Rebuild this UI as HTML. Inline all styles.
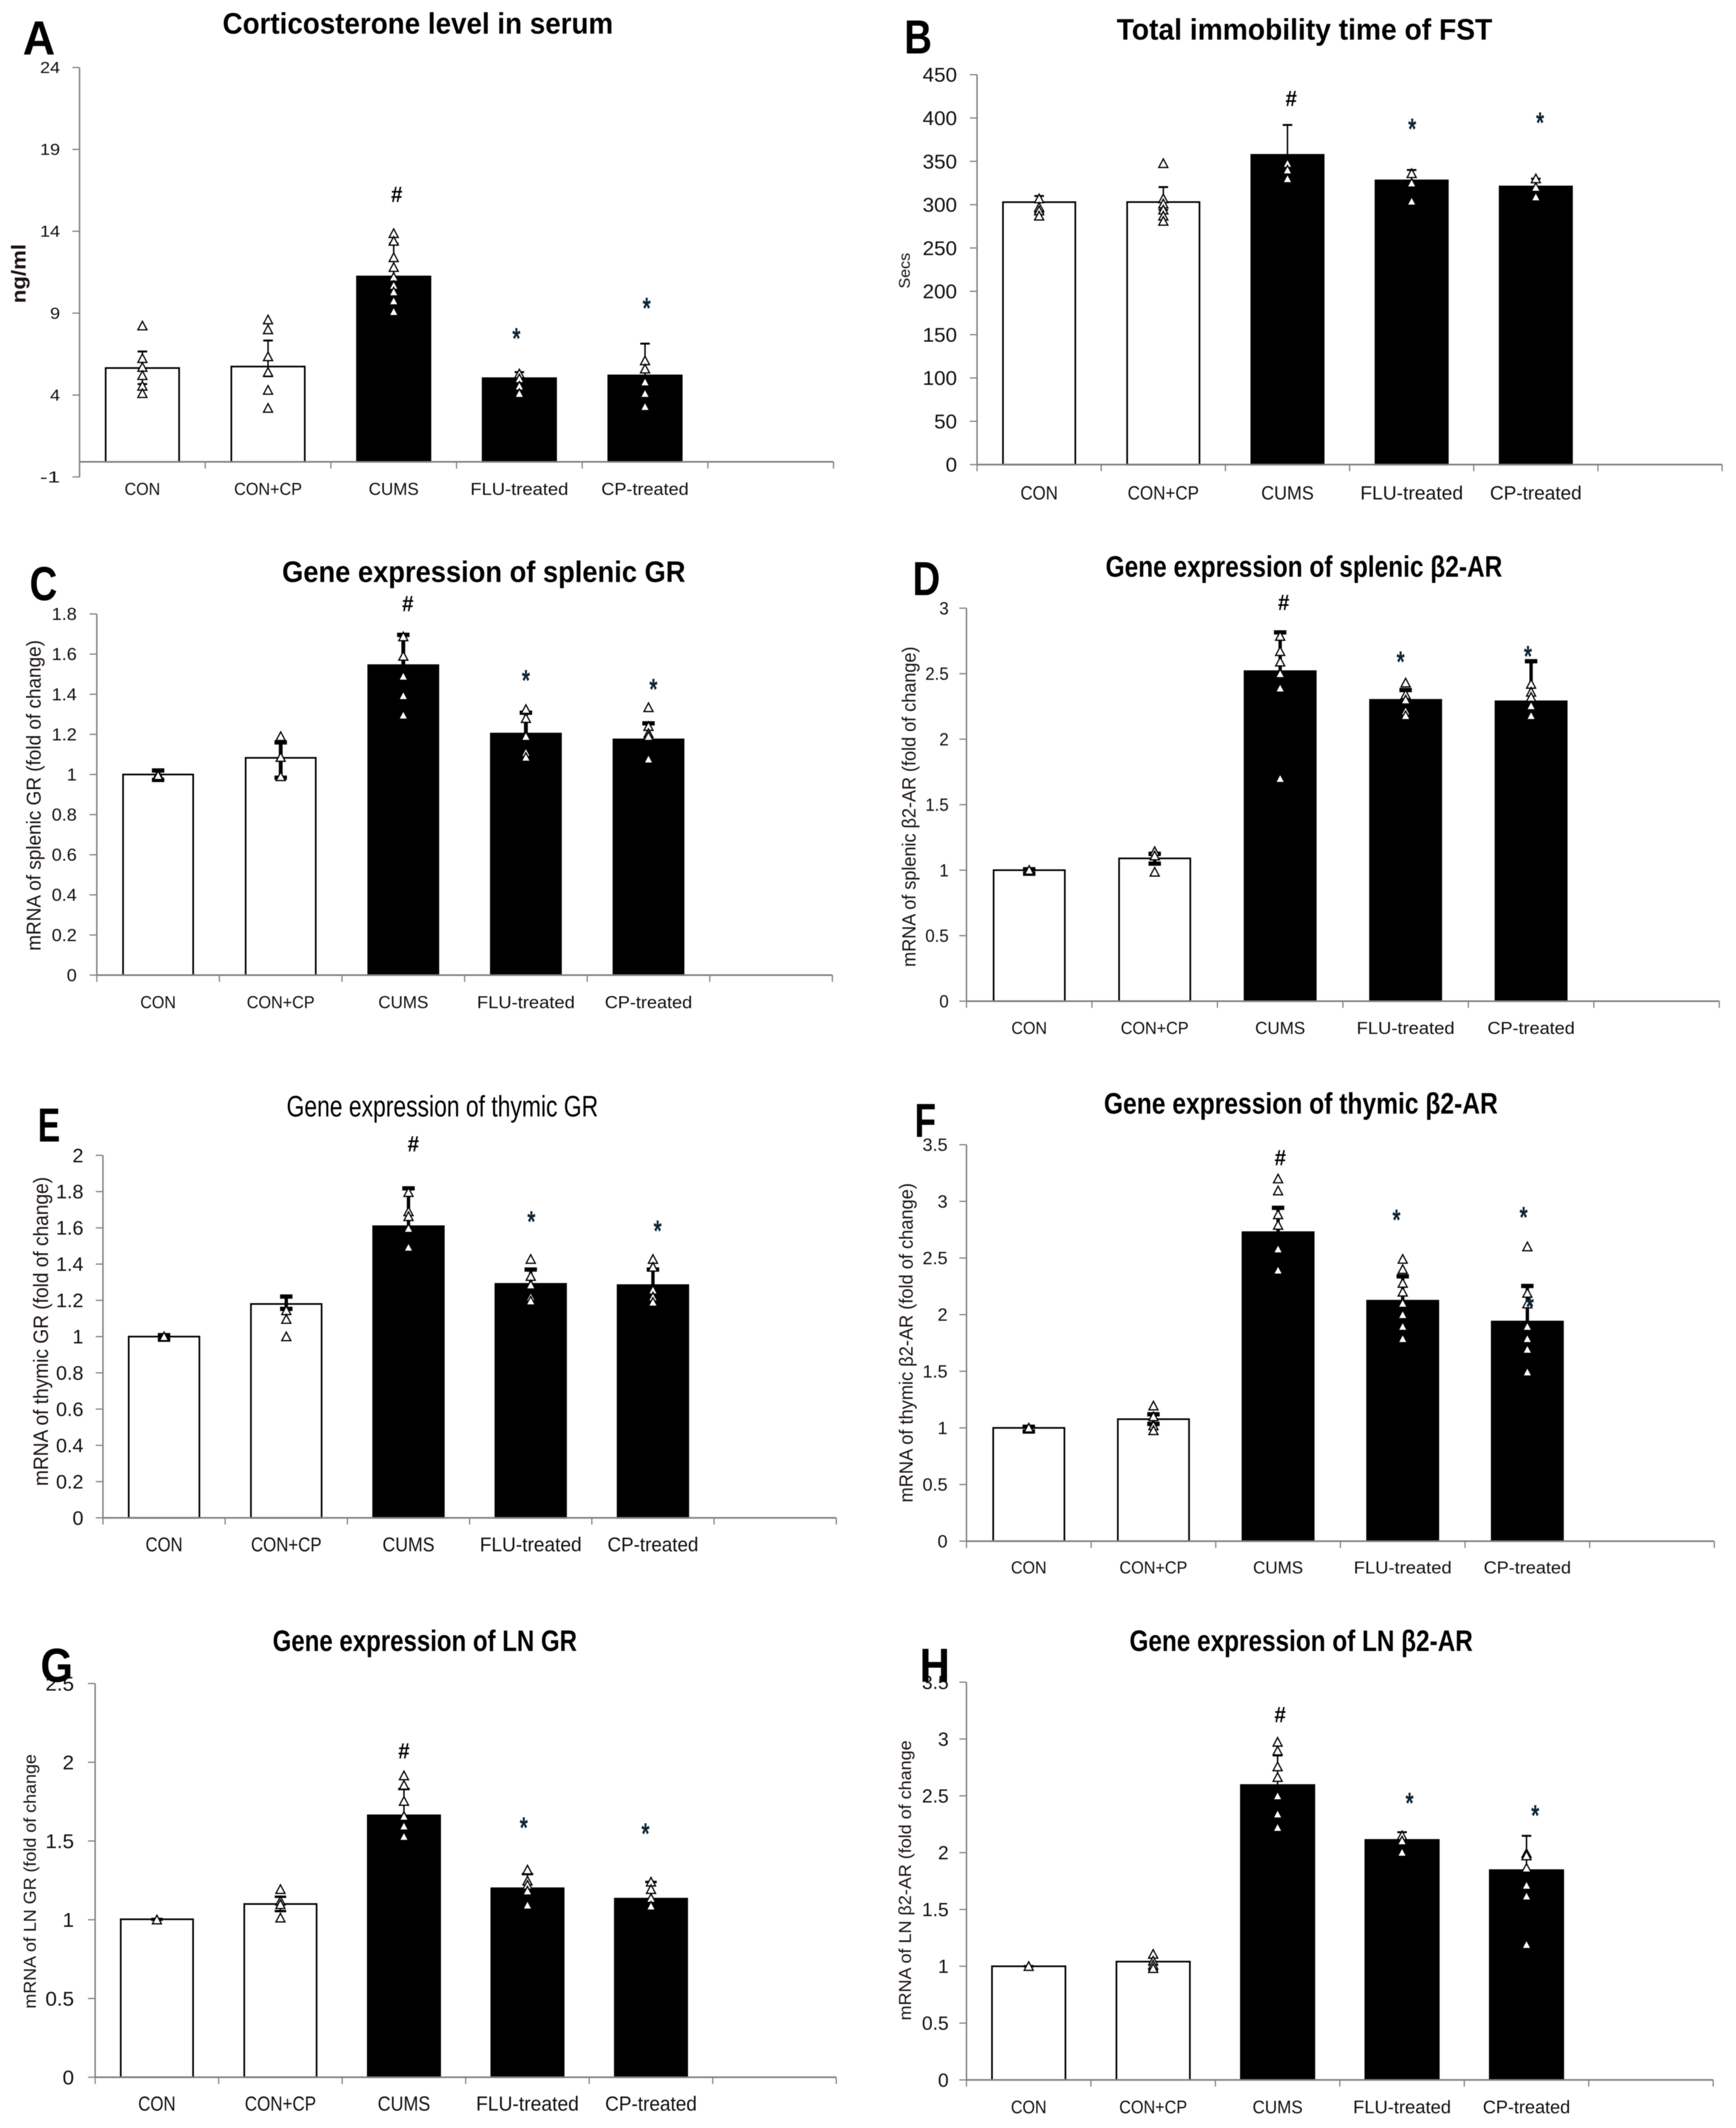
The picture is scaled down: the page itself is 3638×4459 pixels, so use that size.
<!DOCTYPE html>
<html lang="en">
<head>
<meta charset="utf-8">
<title>Eight bar chart panels: corticosterone, immobility and gene expression</title>
<style>
html,body{margin:0;padding:0;background:#fff;width:3638px;height:4459px;overflow:hidden}
svg{display:block;filter:blur(0.9px)}
text{font-family:"Liberation Sans","DejaVu Sans",sans-serif}
</style>
</head>
<body>
<svg id="figure" xmlns="http://www.w3.org/2000/svg" width="3638" height="4459" viewBox="0 0 3638 4459"></svg>
<script>
const categories = ['CON','CON+CP','CUMS','FLU-treated','CP-treated'];

const ticksA = [-1,4,9,14,19,24];
const barsA = [5.65,5.74,11.24,5.03,5.2];
const errHiA = [6.66,7.33,13.25,5.4,7.14];
const errLoA = [4.67,5.15,9.2,4.66,3.3];
const pointsA = [[8.23,6.24,5.7,5.2,4.55,4.1],[8.6,8.0,6.35,5.4,4.3,3.2],[13.87,13.4,12.4,11.8,11.2,10.7,10.3,9.75,9.1],[5.3,5.0,4.55,4.1],[6.1,5.6,4.8,4.1,3.3]];
const marksA = [[2.024,'#',16.26],[2.976,'*',7.74],[4.013,'*',9.59]];

const ticksB = [0,50,100,150,200,250,300,350,400,450];
const barsB = [302.9,303,357.5,328,321];
const errHiB = [310,320.3,392,340,330];
const errLoB = [291,294,323,316,312];
const pointsB = [[307,297,293,287],[347.6,307,301,294,287,281],[347.6,340,330],[336,325,304],[330,320,309]];
const marksB = [[2.03,'#',422.7],[3.004,'*',392.6],[4.034,'*',399.8]];

const ticksC = [0,0.2,0.4,0.6,0.8,1,1.2,1.4,1.6,1.8];
const barsC = [1.0,1.083,1.545,1.204,1.175];
const errHiC = [1.02,1.16,1.696,1.308,1.255];
const errLoC = [0.973,0.984,1.39,1.1,1.09];
const pointsC = [[1.0,0.995],[1.19,1.086,0.99],[1.687,1.59,1.49,1.393,1.296],[1.325,1.28,1.19,1.11,1.086],[1.334,1.24,1.205,1.19,1.077]];
const marksC = [[2.037,'#',1.853],[3.0,'*',1.492],[4.04,'*',1.448]];

const ticksD = [0,0.5,1,1.5,2,2.5,3];
const barsD = [1.0,1.09,2.519,2.3,2.289];
const errHiD = [1.007,1.125,2.815,2.375,2.595];
const errLoD = [0.973,1.05,2.22,2.22,1.98];
const pointsD = [[1.0],[1.143,1.11,0.986],[2.786,2.67,2.59,2.5,2.39,1.7],[2.43,2.34,2.3,2.215,2.18],[2.42,2.36,2.32,2.255,2.18]];
const marksD = [[2.028,'#',3.045],[2.96,'*',2.626],[3.975,'*',2.668]];

const ticksE = [0,0.2,0.4,0.6,0.8,1,1.2,1.4,1.6,1.8,2];
const barsE = [1.0,1.18,1.609,1.291,1.284];
const errHiE = [1.008,1.221,1.818,1.37,1.37];
const errLoE = [0.983,1.153,1.4,1.21,1.2];
const pointsE = [[1.0],[1.144,1.096,1.0],[1.796,1.69,1.663,1.597,1.493],[1.427,1.333,1.285,1.219,1.197],[1.427,1.384,1.257,1.219,1.19]];
const marksE = [[2.04,'#',2.064],[3.005,'*',1.66],[4.038,'*',1.609]];

const ticksF = [0,0.5,1,1.5,2,2.5,3,3.5];
const barsF = [1.0,1.077,2.728,2.123,1.939];
const errHiF = [1.01,1.12,2.943,2.338,2.253];
const errLoF = [0.968,1.035,2.51,1.91,1.62];
const pointsF = [[1.0],[1.195,1.1,1.02,0.977],[3.2,3.094,2.883,2.79,2.58,2.393],[2.49,2.4,2.278,2.2,2.1,2.0,1.896,1.788],[2.6,2.19,2.096,1.896,1.788,1.694,1.494]];
const marksF = [[2.018,'#',3.388],[2.95,'*',2.877],[3.97,'*',2.9],[4.02,'*',2.11]];

const ticksG = [0,0.5,1,1.5,2,2.5];
const barsG = [1.003,1.1,1.663,1.2,1.134];
const errHiG = [1.005,1.146,1.83,1.29,1.24];
const errLoG = [1.0,1.055,1.5,1.11,1.03];
const pointsG = [[1.0],[1.193,1.119,1.097,1.012],[1.915,1.855,1.753,1.657,1.595,1.529],[1.317,1.247,1.22,1.183,1.093],[1.24,1.193,1.136,1.087]];
const marksG = [[2.0,'#',2.073],[2.97,'*',1.614],[3.955,'*',1.576]];

const ticksH = [0,0.5,1,1.5,2,2.5,3,3.5];
const barsH = [1.0,1.041,2.595,2.112,1.846];
const errHiH = [1.003,1.077,2.855,2.18,2.148];
const errLoH = [0.997,0.967,2.33,2.04,1.54];
const pointsH = [[1.0],[1.107,1.047,1.012,0.982],[2.973,2.896,2.757,2.663,2.5,2.34,2.222],[2.15,2.104,2.003],[1.994,1.973,1.864,1.713,1.618,1.192]];
const marksH = [[2.02,'#',3.216],[3.06,'*',2.476],[4.07,'*',2.367]];

const SX = 1819/1560;
const SY_TOP = 1120/1560;
const SY_LOW = 1099/1560;
const NS = 'http://www.w3.org/2000/svg';
const svg = document.getElementById('figure');

const panels = [
 {id:'a',letter:'A',ticks:ticksA,bars:barsA,hi:errHiA,lo:errLoA,pts:pointsA,marks:marksA,ox:0,oy:0,sy:SY_TOP,axL:143,axR:1498,axY:1348,zTop:197,zBot:1392,barW:132,
  title:'Corticosterone level in serum',tx:[400,1102,70],titleBold:true,ltr:[70,110,68],ytitle:'ng/ml',yt:[35,712,885,42],ytBold:true,tickR:108,tickF:33,tickW:21,xlY:1427,xlF:36,xlS:1,errW:3,capW:20,capH:4},
 {id:'b',letter:'B',ticks:ticksB,bars:barsB,hi:errHiB,lo:errLoB,pts:pointsB,marks:marksB,ox:1819,oy:0,sy:SY_TOP,axL:196,axR:1535,axY:1356,zTop:218,zBot:1356,barW:130,
  title:'Total immobility time of FST',tx:[447,1122,87],titleBold:true,ltr:[90,107,58],ytitle:'Secs',yt:[67,738,842,32],tickR:160,tickF:42,tickW:24,xlY:1438,xlF:40,xlS:1.05,errW:3,capW:20,capH:4},
 {id:'c',letter:'C',ticks:ticksC,bars:barsC,hi:errHiC,lo:errLoC,pts:pointsC,marks:marksC,ox:0,oy:1120,sy:SY_TOP,axL:174,axR:1496,axY:1286,zTop:232,zBot:1286,barW:126,
  title:'Gene expression of splenic GR',tx:[507,1232,110],titleBold:true,ltr:[78,143,58],ytitle:'mRNA of splenic GR (fold of change)',yt:[62,308,1215,42],tickR:138,tickF:36,tickW:21,xlY:1365,xlF:36,xlS:1,errW:8,capW:26,capH:9},
 {id:'d',letter:'D',ticks:ticksD,bars:barsD,hi:errHiD,lo:errLoD,pts:pointsD,marks:marksD,ox:1819,oy:1120,sy:SY_TOP,axL:177,axR:1530,axY:1362,zTop:215,zBot:1362,barW:128,
  title:'Gene expression of splenic β2-AR',tx:[427,1140,95],titleBold:true,ltr:[105,128,58],ytitle:'mRNA of splenic β2-AR (fold of change)',yt:[75,327,1262,40],tickR:145,tickF:37,tickW:19.6,xlY:1440,xlF:36,xlS:1,errW:7,capW:26,capH:9},
 {id:'e',letter:'E',ticks:ticksE,bars:barsE,hi:errHiE,lo:errLoE,pts:pointsE,marks:marksE,ox:0,oy:2240,sy:SY_TOP,axL:185,axR:1503,axY:1310,zTop:252,zBot:1310,barW:127,
  title:'Gene expression of thymic GR',tx:[515,1075,110],titleBold:false,ltr:[88,163,47],ytitle:'mRNA of thymic GR (fold of change)',yt:[75,315,1217,44],tickR:150,tickF:41,tickW:23,xlY:1387,xlF:42,xlS:1.04,errW:7,capW:26,capH:9},
 {id:'f',letter:'F',ticks:ticksF,bars:barsF,hi:errHiF,lo:errLoF,pts:pointsF,marks:marksF,ox:1819,oy:2240,sy:SY_TOP,axL:177,axR:1521,axY:1378,zTop:221,zBot:1378,barW:128,
  title:'Gene expression of thymic β2-AR',tx:[424,1132,102],titleBold:true,ltr:[103,150,45],ytitle:'mRNA of thymic β2-AR (fold of change)',yt:[70,333,1265,40],tickR:143,tickF:37,tickW:21,xlY:1455,xlF:36,xlS:1,errW:7,capW:26,capH:9},
 {id:'g',letter:'G',ticks:ticksG,bars:barsG,hi:errHiG,lo:errLoG,pts:pointsG,marks:marksG,ox:0,oy:3360,sy:SY_LOW,axL:171,axR:1503,axY:1409,zTop:238,zBot:1409,barW:130,
  title:'Gene expression of LN GR',tx:[490,1037,112],titleBold:true,ltr:[102,183,68],ytitle:'mRNA of LN GR (fold of change',yt:[55,448,1205,36],tickR:133,tickF:42,tickW:24,xlY:1487,xlF:43,xlS:1.05,errW:3,capW:24,capH:5},
 {id:'h',letter:'H',ticks:ticksH,bars:barsH,hi:errHiH,lo:errLoH,pts:pointsH,marks:marksH,ox:1819,oy:3360,sy:SY_LOW,axL:177,axR:1519,axY:1417,zTop:234,zBot:1417,barW:132,
  title:'Gene expression of LN β2-AR',tx:[470,1087,112],titleBold:true,ltr:[120,183,63],ytitle:'mRNA of LN β2-AR (fold of change',yt:[68,407,1240,36],tickR:145,tickF:40,tickW:22.4,xlY:1497,xlF:38,xlS:1,errW:3,capW:20,capH:4}
];

const xLabelWidths = [64,122,90,176,157];

function mk(tag, attrs, parent, content) {
  const el = document.createElementNS(NS, tag);
  for (const k in attrs) el.setAttribute(k, attrs[k]);
  if (content !== undefined) el.textContent = content;
  parent.appendChild(el);
  return el;
}
function tickChars(s) {
  let n = 0;
  for (const c of s) n += (c === '.' ? 0.5 : 1);
  return n;
}

function drawPanel(p) {
  const zx = z => p.ox + z * SX;
  const zy = z => p.oy + z * p.sy;
  const v0 = p.ticks[0], v1 = p.ticks[p.ticks.length - 1];
  const yScale = v => zy(p.zBot + (p.zTop - p.zBot) * (v - v0) / (v1 - v0));
  const slot = (p.axR - p.axL) / 6;
  const xScale = g => zx(p.axL + (g + 0.5) * slot);
  const base = zy(p.axY);
  const barW = p.barW * SX;

  const g = mk('g', {}, svg);
  
  

  p.bars.forEach((v, i) => {
    const top = yScale(v);
    const bar = mk('rect', {x: xScale(i) - barW / 2, y: top, width: barW, height: base - top, fill: i < 2 ? '#fff' : '#000', stroke: '#000', 'stroke-width': 3.5}, g);
    
    
  });

  p.bars.forEach((v, i) => {
    const cx = xScale(i);
    const stem = mk('line', {x1: cx, x2: cx, y1: yScale(p.hi[i]), y2: yScale(p.lo[i]), stroke: '#000', 'stroke-width': p.errW}, g);
    
    
    [p.hi[i], p.lo[i]].forEach(ev => {
      const cap = mk('rect', {x: cx - p.capW / 2, y: yScale(ev) - p.capH / 2, width: p.capW, height: p.capH, fill: '#000'}, g);
      
      
    });
  });

  p.pts.forEach((list, i) => {
    list.forEach(v => {
      const cx = xScale(i), cy = yScale(v);
      const tri = mk('polygon', {points: `${cx},${cy - 9.5} ${cx + 9.5},${cy + 8.5} ${cx - 9.5},${cy + 8.5}`, fill: '#fff', stroke: '#000', 'stroke-width': 2.6}, g);
      
      
    });
  });

  const yAxis = mk('line', {x1: zx(p.axL), x2: zx(p.axL), y1: zy(p.zTop), y2: zy(p.zBot), stroke: '#808080', 'stroke-width': 3}, g);
  
  
  const xAxis = mk('line', {x1: zx(p.axL), x2: zx(p.axR), y1: base, y2: base, stroke: '#808080', 'stroke-width': 3.5}, g);
  
  

  p.ticks.forEach(t => {
    const y = yScale(t);
    const tm = mk('line', {x1: zx(p.axL) - 15, x2: zx(p.axL), y1: y, y2: y, stroke: '#808080', 'stroke-width': 2.5}, g);
    
    
    const s = String(t);
    const lb = mk('text', {x: zx(p.tickR), y: y + p.tickF * 0.35, 'font-size': p.tickF, 'text-anchor': 'end', fill: '#111', textLength: p.tickW * tickChars(s), lengthAdjust: 'spacingAndGlyphs'}, g, s);
    
    
  });

  for (let i = 0; i <= 6; i++) {
    const x = zx(p.axL + i * slot);
    const tm = mk('line', {x1: x, x2: x, y1: base, y2: base + 14, stroke: '#808080', 'stroke-width': 2.5}, g);
    
    
  }

  categories.forEach((c, i) => {
    const lb = mk('text', {x: xScale(i), y: zy(p.xlY) + p.xlF * 0.35, 'font-size': p.xlF, 'text-anchor': 'middle', fill: '#111', textLength: xLabelWidths[i] * p.xlS * SX, lengthAdjust: 'spacingAndGlyphs'}, g, c);
    
    
  });

  p.marks.forEach(m => {
    const isHash = m[1] === '#';
    const size = isHash ? 46 : 62;
    const my = yScale(m[2]) + (isHash ? 0.35 : 0.5) * size;
    const mark = mk('text', {x: xScale(m[0]), y: my, 'font-size': size, 'text-anchor': 'middle', fill: isHash ? '#000' : '#0c2436', 'font-weight': 'bold', textLength: isHash ? 24 : 17, lengthAdjust: 'spacingAndGlyphs'}, g, m[1]);
    
    
  });

  const tLen = (p.tx[1] - p.tx[0]) * SX;
  const tCx = zx((p.tx[0] + p.tx[1]) / 2);
  const title = mk('text', {x: tCx, y: zy(p.tx[2]) + 62 * 0.33, 'font-size': 62, 'text-anchor': 'middle', 'font-weight': p.titleBold ? 'bold' : 'normal', fill: '#000', textLength: tLen, lengthAdjust: 'spacingAndGlyphs'}, g, p.title);
  
  

  const letter = mk('text', {x: zx(p.ltr[0]), y: zy(p.ltr[1]) + 100 * 0.35, 'font-size': 100, 'font-weight': 'bold', 'text-anchor': 'middle', fill: '#000', textLength: p.ltr[2], lengthAdjust: 'spacingAndGlyphs'}, g, p.letter);
  
  

  const yx = zx(p.yt[0]), ymid = zy((p.yt[1] + p.yt[2]) / 2);
  const yLen = (p.yt[2] - p.yt[1]) * p.sy;
  const yTitle = mk('text', {x: yx, y: ymid, dy: p.yt[3] * 0.3, 'font-size': p.yt[3], 'text-anchor': 'middle', 'font-weight': p.ytBold ? 'bold' : 'normal', fill: '#1c1414', textLength: yLen, lengthAdjust: 'spacingAndGlyphs', transform: `rotate(-90 ${yx} ${ymid})`}, g, p.ytitle);
  
  
}

panels.forEach(drawPanel);
</script>
</body>
</html>
